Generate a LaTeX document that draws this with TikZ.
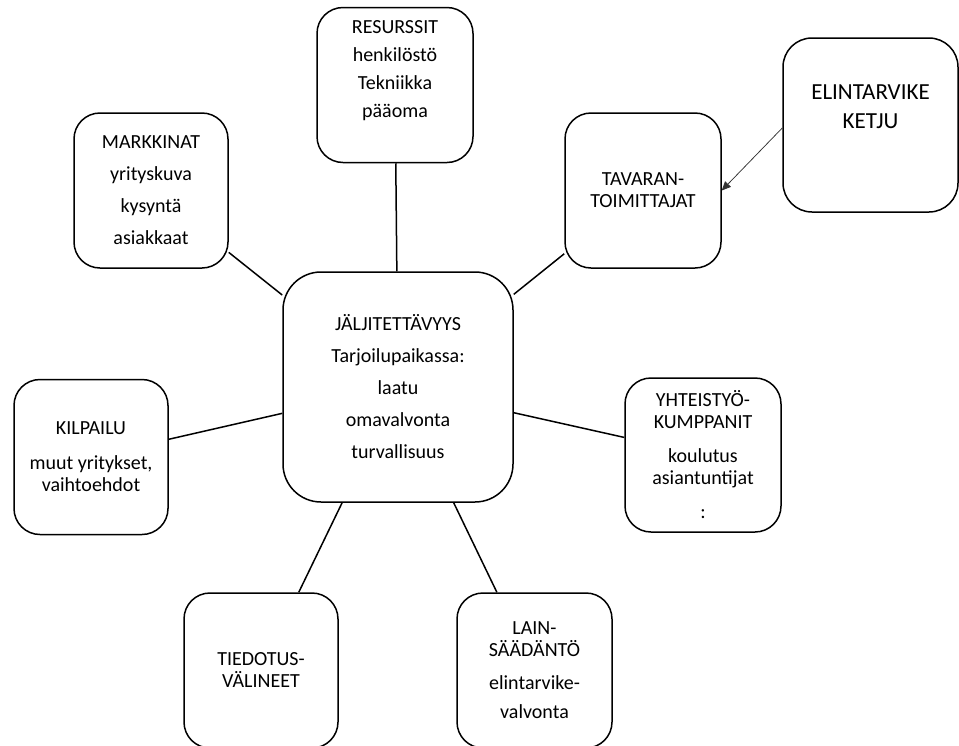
\documentclass[tikz,border=0pt]{standalone}
\usepackage{fontspec}
\setmainfont{Carlito}
\usetikzlibrary{positioning, calc, arrows.meta}

\begin{document}
\begin{tikzpicture}[x=1pt, y=-1pt, >=Triangle,
    box/.style={draw, line width=1.5pt, rounded corners=26pt, align=center,
        minimum width=154pt, minimum height=155pt, inner sep=0pt,
        font=\fontsize{20}{22}\selectfont},
    link/.style={line width=1.5pt}]

    % --- Frame ---
    \useasboundingbox (0,0) rectangle (959,745);

    % --- Centre ---
    \node[box, minimum width=230pt, minimum height=230pt, rounded corners=38pt] (cen) at (398,387)
        {JÄLJITETTÄVYYS\\[10pt]Tarjoilupaikassa:\\[10pt]laatu\\[10pt]omavalvonta\\[10pt]turvallisuus};

    % --- Surrounding boxes ---
    \node[box, minimum width=156pt] (res) at (395,85)
        {RESURSSIT\\[6pt]henkilöstö\\[6pt]Tekniikka\\[6pt]pääoma\\[10pt]\mbox{}};
    \node[box] (mark) at (151,190.5)
        {MARKKINAT\\[10pt]yrityskuva\\[10pt]kysyntä\\[10pt]asiakkaat};
    \node[box, minimum width=156pt] (tav) at (643,190.5)
        {TAVARAN-\\TOIMITTAJAT};
    \node[box, minimum width=175pt, minimum height=174pt, rounded corners=29pt,
        font=\fontsize{23}{29}\selectfont] (elin) at (870.5,125)
        {ELINTARVIKE\\KETJU\\[8pt]\mbox{}};
    \node[box] (kil) at (91,457)
        {KILPAILU\\[13pt]muut yritykset,\\vaihtoehdot};
    \node[box, minimum width=156pt, minimum height=154pt] (yht) at (703,455)
        {YHTEISTYÖ-\\KUMPPANIT\\[12pt]koulutus\\asiantuntijat\\[12pt]:};
    \node[box] (tie) at (261,670.5)
        {TIEDOTUS-\\VÄLINEET};
    \node[box, minimum width=155pt] (lain) at (534.5,670.5)
        {LAIN-\\SÄÄDÄNTÖ\\[11pt]elintarvike-\\[7pt]valvonta};

    % --- Connectors ---
    \foreach \n in {res, mark, tav, kil, yht, tie, lain} {
        \draw[link] (\n) -- (cen);
    }

    % Arrow from the food chain to the suppliers
    \draw[->, line width=0.75pt, black!80, >={Triangle[length=9pt, width=8pt]}]
        ([yshift=-3pt]elin.west) -- (tav.east);

\end{tikzpicture}
\end{document}
